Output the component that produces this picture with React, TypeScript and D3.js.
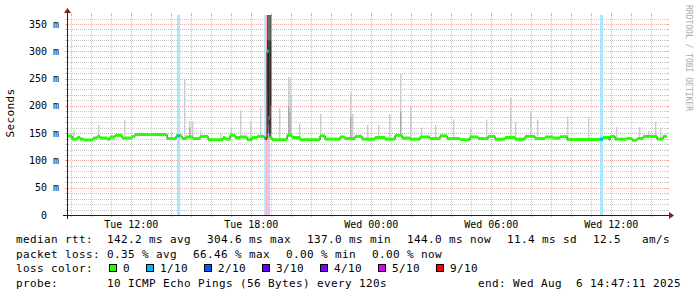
import React from "react";
import * as d3 from "d3";

// ---------- time frame ----------
const DAY0 = new Date(2025, 7, 5, 0, 0, 0).getTime(); // Tue Aug 5 2025 00:00
const START_H = 8 + 47 / 60 + 11 / 3600; // Tue 08:47:11
const END_H = START_H + 30; // Wed 14:47:11
const STEP_H = 4 / 60; // data step (hours)

// ---------- y axis ----------
const yMax = 366.5;
const yTickValues = [0, 50, 100, 150, 200, 250, 300, 350];

// ---------- median rtt (ms): [hours since Tue 00:00, value] ----------
const medianSteps: [number, number][] = [
  [8.79, 145], [9.04, 139], [9.29, 142], [9.44, 139], [9.64, 137.5], [10.09, 141],
  [10.29, 144], [10.44, 141], [10.79, 139], [10.94, 143], [11.19, 146], [11.54, 141],
  [12.04, 144], [12.19, 147.5], [13.79, 140], [14.24, 145], [14.54, 140], [14.74, 143],
  [15.09, 140], [15.44, 144], [15.84, 138], [16.59, 142], [16.69, 139], [16.94, 146],
  [17.19, 142], [17.44, 143], [17.79, 138], [18.04, 142], [18.29, 144], [18.65, 141],
  [18.72, 140], [18.79, 300], [18.86, 178], [18.93, 142], [19.04, 138], [19.79, 146],
  [20.04, 142], [20.44, 138], [21.44, 145], [21.69, 139], [22.44, 143], [22.69, 140],
  [23.19, 144], [23.54, 139], [24.19, 142], [24.69, 139], [25.19, 146], [25.54, 141],
  [25.94, 139], [26.44, 143], [26.94, 140], [27.44, 145], [27.79, 140], [28.44, 138],
  [28.94, 143], [29.34, 140], [29.84, 144], [30.19, 139], [30.69, 142], [31.19, 139],
  [31.69, 144], [32.19, 140], [32.69, 143], [33.09, 141], [33.44, 143.5], [33.79, 138.5],
  [35.44, 139], [35.59, 142], [35.89, 138], [35.94, 144], [36.19, 139], [36.79, 140.5],
  [37.04, 137], [37.29, 140], [37.59, 144], [38.29, 139], [38.59, 144],
];

// ---------- packet loss periods: [from h, to h, lost pings of 10] ----------
const lossPeriods: [number, number, number][] = [
  [14.29, 14.44, 1],
  [18.65, 18.72, 1],
  [18.72, 18.79, 9],
  [18.79, 18.86, 1],
  [18.86, 18.93, 5],
  [35.44, 35.59, 1],
];

// ---------- smoke: slow pings above the median: [h, pings ms] ----------
const smokeOutliers: [number, number[]][] = [
  [9.09, [155]], [10.34, [165]], [11.64, [174]], [13.99, [152]], [14.64, [250]],
  [14.89, [172, 160]], [15.04, [172]], [15.44, [155]], [16.44, [150]], [16.97, [159]],
  [17.44, [192]], [17.94, [172]], [18.44, [201]], [19.39, [196]], [19.84, [253, 200]],
  [19.91, [250, 190]], [19.97, [220]], [20.39, [168]], [21.44, [186]], [22.94, [225, 180]],
  [23.04, [185]], [23.79, [165]], [24.34, [165]], [24.89, [185]], [25.44, [260, 190]],
  [25.94, [200]], [26.49, [160]], [27.19, [165]], [28.09, [175]], [28.94, [160]],
  [29.74, [175]], [30.94, [215]], [31.19, [170]], [31.94, [190]], [32.29, [175]],
  [33.79, [180]], [34.84, [180]], [36.24, [161]], [37.39, [161]], [37.84, [154]],
  [38.19, [171]], [38.44, [160]],
];

// ---------- smoke: complete ping sets during the outage ----------
const smokeFull: [number, number[]][] = [
  [18.79, [140, 150, 230, 300, 300, 320, 380, 420, 450]],
  [18.86, [150, 165, 178, 320, 420]],
  [18.93, [142, 145, 150, 200, 260, 320, 380, 400, 420]],
];

// ---------- legend ----------
const lossLevels = [0, 1, 2, 3, 4, 5, 9];
const lossLabels = ["0", "1/10", "2/10", "3/10", "4/10", "5/10", "9/10"];
const lossColors = ["#26ff00", "#00b8ff", "#0059ff", "#5e00ff", "#7e00ff", "#dd00ff", "#ff0000"];
const lossTints = ["#d4ffcc", "#a6e6ff", "#a6c4ff", "#cba6ff", "#d6a6ff", "#f2a6ff", "#ffb0b0"];
const medianStats = ["142.2 ms avg", "304.6 ms max", "137.0 ms min", "144.0 ms now", "11.4 ms sd", "12.5   am/s"];
const lossStats = ["0.35 % avg", "66.46 % max", "0.00 % min", "0.00 % now"];
const probeText = "10 ICMP Echo Pings (56 Bytes) every 120s";
const endText = "end: Wed Aug  6 14:47:11 2025";

const smokeShades = ["#cacaca", "#a4a4a4", "#7e7e7e", "#585858", "#323232"];

const MONO = "'DejaVu Sans Mono', monospace";
const nb = (s: string) => s.replace(/ /g, "\u00a0");

export default function App() {
  const W = 697, H = 297;
  const X0 = 67, X1 = 667, YB = 215, YT = 15;
  const toDate = (h: number) => new Date(DAY0 + h * 3600e3);
  const x = d3.scaleTime().domain([toDate(START_H), toDate(END_H)]).range([X0, X1]);
  const y = d3.scaleLinear().domain([0, yMax]).range([YB, YT]);
  const xh = (h: number) => x(toDate(Math.max(START_H, Math.min(END_H, h))));

  const medianAt = (h: number) => {
    let v = medianSteps[0][1];
    for (const [t, m] of medianSteps) if (t <= h + 1e-9) v = m;
    return v;
  };

  // grid
  const t0 = toDate(START_H), t1 = toDate(END_H);
  const hours = d3.timeHour.range(t0, t1);
  const majors = d3.timeHour.every(3)!.range(t0, t1);
  const labels = d3.timeHour.every(6)!.range(t0, t1);
  const majorSet = new Set(majors.map((d) => +d));
  const fmt = d3.timeFormat("%a %H:%M");
  const yMinor = d3.range(10, yMax, 10).filter((v) => v % 50 !== 0);
  const yMajor = yTickValues.filter((v) => v > 0);
  const rp = (v: number) => Math.round(v) + 0.5;

  const gridC = "rgba(143,143,143,0.5)";
  const mgridC = "rgba(222,79,79,0.5)";

  // median line points
  const medPts: [number, number][] = [...medianSteps, [END_H, medianSteps[medianSteps.length - 1][1]]];
  const medLine = d3
    .line<[number, number]>()
    .x((d) => xh(d[0]))
    .y((d) => y(d[1]))
    .curve(d3.curveStepAfter);

  // smoke rects
  const smokeRects: { x0: number; x1: number; y0: number; y1: number; c: string }[] = [];
  const addSmoke = (h: number, pings: number[]) => {
    const p = [...pings].sort((a, b) => a - b);
    const n = p.length;
    const half = Math.floor(n / 2);
    for (let k = 0; k < half; k++) {
      const lo = p[k], hi = p[n - 1 - k];
      if (hi <= lo) continue;
      smokeRects.push({
        x0: xh(h), x1: xh(h + STEP_H),
        y0: y(Math.min(hi, yMax)), y1: y(lo),
        c: smokeShades[Math.min(4, k + (5 - half))],
      });
    }
  };
  smokeOutliers.forEach(([h, out]) => {
    const m = medianAt(h);
    const pings = [...Array(10 - out.length).fill(m), ...out];
    addSmoke(h, pings);
  });
  smokeFull.forEach(([h, p]) => addSmoke(h, p));

  // legend layout
  const CW = 7;
  const GAP = 16;
  const LX = 16, VX = 107;
  const base = [243, 257.5, 272, 286.5];
  const place = (items: string[]) => {
    let cx = VX;
    return items.map((s) => {
      const r = { s, x: cx };
      cx += s.length * CW + GAP;
      return r;
    });
  };
  const lossItems = (() => {
    let cx = 109;
    return lossLabels.map((s, i) => {
      const r = { s, bx: cx, tx: cx + 14, c: lossColors[i] };
      cx = cx + 14 + s.length * CW + GAP;
      return r;
    });
  })();

  return (
    <svg
      width={W}
      height={H}
      style={{ position: "absolute", left: 0, top: 0, background: "#ffffff" }}
      fontFamily={MONO}
    >
      <rect x={0} y={0} width={W} height={H} fill="#ffffff" />
      <defs>
        <clipPath id="plot">
          <rect x={X0} y={YT} width={X1 - X0} height={YB - YT} />
        </clipPath>
      </defs>

      {/* horizontal grid */}
      {yMinor.map((v) => (
        <g key={"hm" + v}>
          <line x1={X0 + 1} x2={X1} y1={rp(y(v))} y2={rp(y(v))} stroke={gridC} strokeDasharray="1,1" />
          <line x1={X0 - 2} x2={X0} y1={rp(y(v))} y2={rp(y(v))} stroke={gridC} />
          <line x1={X1} x2={X1 + 2} y1={rp(y(v))} y2={rp(y(v))} stroke={gridC} />
        </g>
      ))}
      {yMajor.map((v) => (
        <g key={"hM" + v}>
          <line x1={X0 + 1} x2={X1} y1={rp(y(v))} y2={rp(y(v))} stroke={mgridC} strokeDasharray="1,1" />
          <line x1={X0 - 2} x2={X0} y1={rp(y(v))} y2={rp(y(v))} stroke={mgridC} />
          <line x1={X1} x2={X1 + 2} y1={rp(y(v))} y2={rp(y(v))} stroke={mgridC} />
        </g>
      ))}
      {/* vertical grid */}
      {hours
        .filter((d) => !majorSet.has(+d))
        .map((d) => (
          <g key={"vm" + +d}>
            <line x1={rp(x(d))} x2={rp(x(d))} y1={YT} y2={YB} stroke={gridC} strokeDasharray="1,1" />
            <line x1={rp(x(d))} x2={rp(x(d))} y1={YT - 2} y2={YT} stroke={gridC} />
            <line x1={rp(x(d))} x2={rp(x(d))} y1={YB} y2={YB + 2} stroke={gridC} />
          </g>
        ))}
      {majors.map((d) => (
        <g key={"vM" + +d}>
          <line x1={rp(x(d))} x2={rp(x(d))} y1={YT} y2={YB} stroke={mgridC} strokeDasharray="1,1" />
          <line x1={rp(x(d))} x2={rp(x(d))} y1={YT - 2} y2={YT} stroke={mgridC} />
          <line x1={rp(x(d))} x2={rp(x(d))} y1={YB} y2={YB + 2} stroke={mgridC} />
        </g>
      ))}

      <g clipPath="url(#plot)">
        {/* loss background */}
        {lossPeriods.map(([a, b, l], i) => (
          <rect
            key={"lb" + i}
            x={xh(a)}
            width={xh(b) - xh(a)}
            y={YT}
            height={YB - YT}
            fill={lossTints[lossLevels.indexOf(l)]}
          />
        ))}
        {/* smoke */}
        {smokeRects.map((r, i) => (
          <rect key={"s" + i} x={r.x0} width={r.x1 - r.x0} y={r.y0} height={r.y1 - r.y0} fill={r.c} />
        ))}
        {/* median dark line */}
        <path d={medLine(medPts) ?? ""} fill="none" stroke="#202020" strokeWidth={1} />
        {/* median band (green) */}
        {medPts.slice(0, -1).map((d, i) => (
          <rect
            key={"m" + i}
            x={xh(d[0])}
            width={xh(medPts[i + 1][0]) - xh(d[0])}
            y={y(d[1]) - 1.5}
            height={3}
            fill={lossColors[0]}
          />
        ))}
        {/* median band during loss */}
        {lossPeriods.map(([a, b, l], i) => (
          <rect
            key={"ml" + i}
            x={xh(a)}
            width={xh(b) - xh(a)}
            y={y(medianAt(a)) - 1.5}
            height={3}
            fill={lossColors[lossLevels.indexOf(l)]}
          />
        ))}
      </g>

      {/* axes */}
      <line x1={X0 - 4} x2={X1 + 4} y1={YB + 0.5} y2={YB + 0.5} stroke="#1f1f1f" />
      <line x1={X0 + 0.5} x2={X0 + 0.5} y1={YB + 4} y2={YT - 4} stroke="#1f1f1f" />
      <path d={`M${X1 + 2},${YB - 3}L${X1 + 2},${YB + 4}L${X1 + 7},${YB + 0.5}Z`} fill="#801f1f" />
      <path d={`M${X0 - 3},${YT - 2}L${X0 + 4},${YT - 2}L${X0 + 0.5},${YT - 7}Z`} fill="#801f1f" />

      {/* y tick labels */}
      {yTickValues.map((v) => (
        <text
          key={"yl" + v}
          x={v === 0 ? 47 : 59}
          y={y(v) + 3.6}
          fontSize={10}
          textAnchor="end"
          fill="#000"
        >
          {nb(v === 0 ? "0" : `${v} m`)}
        </text>
      ))}
      {/* x tick labels */}
      {labels.map((d) => (
        <text key={"xl" + +d} x={x(d)} y={228} fontSize={10} textAnchor="middle" fill="#000">
          {nb(fmt(d))}
        </text>
      ))}

      {/* y title */}
      <text transform="translate(14,113) rotate(-90)" fontSize={11} letterSpacing={0.38} textAnchor="middle" fill="#000">
        Seconds
      </text>
      {/* watermark */}
      <text transform="translate(685.5,5) rotate(90)" fontSize={8} fill="#a9a9a9">
        {nb("RRDTOOL / TOBI OETIKER")}
      </text>

      {/* legend */}
      <g fontSize={11} letterSpacing={0.38} fill="#000">
        <text x={LX} y={base[0]}>{nb("median rtt:")}</text>
        {place(medianStats).map((it, i) => (
          <text key={"ms" + i} x={it.x} y={base[0]}>{nb(it.s)}</text>
        ))}
        <text x={LX} y={base[1]}>{nb("packet loss:")}</text>
        {place(lossStats).map((it, i) => (
          <text key={"ls" + i} x={it.x} y={base[1]}>{nb(it.s)}</text>
        ))}
        <text x={LX} y={base[2]}>{nb("loss color:")}</text>
        {lossItems.map((it, i) => (
          <g key={"lc" + i}>
            <rect x={it.bx + 0.5} y={264.5} width={7} height={7} fill={it.c} stroke="#000" />
            <text x={it.tx} y={base[2]}>{nb(it.s)}</text>
          </g>
        ))}
        <text x={LX} y={base[3]}>{nb("probe:")}</text>
        <text x={VX} y={base[3]}>{nb(probeText)}</text>
        <text x={681} y={base[3]} textAnchor="end">{nb(endText)}</text>
      </g>
    </svg>
  );
}
